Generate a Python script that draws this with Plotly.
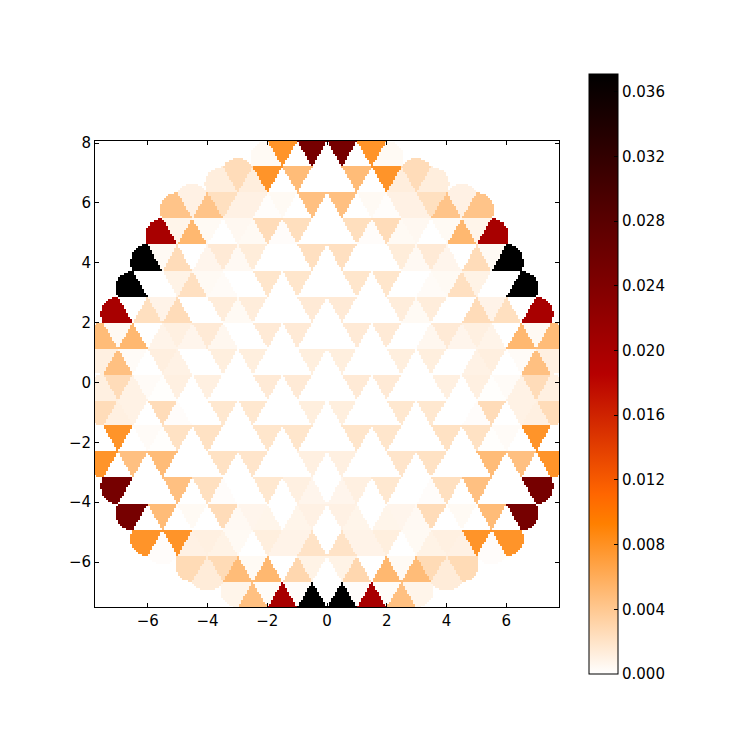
import numpy as np
import plotly.graph_objects as go

SCALE = 1e-5
row_00 = [40,780,0,2510,0,2510,0,780,40]
row_01 = [125,255,125,780,0,490,0,0,0,490,0,780,125,255,125]
row_02 = [430,100,430,230,100,100,15,40,0,460,0,460,0,40,15,100,100,230,430,100,430]
row_03 = [2000,75,520,40,0,50,40,255,20,235,0,0,0,235,20,255,40,50,0,40,520,75,2000]
row_04 = [3710,40,255,0,70,150,45,135,0,0,0,225,0,225,0,0,0,135,45,150,70,0,255,40,3710]
row_05 = [3710,0,0,90,225,40,30,0,0,185,0,185,0,0,0,185,0,185,0,0,30,40,225,90,0,0,3710]
row_06 = [2000,0,230,85,255,0,0,130,40,130,0,0,0,150,0,150,0,0,0,130,40,130,0,0,255,85,230,0,2000]
row_07 = [490,45,520,0,80,110,70,150,60,0,0,150,0,150,0,0,0,150,0,150,0,0,60,150,70,110,80,0,520,45,490]
row_08 = [110,460,30,0,115,95,0,0,120,0,120,0,0,0,120,0,120,0,0,0,120,0,120,0,0,95,115,0,30,460,110]
row_09 = [110,255,95,30,10,110,0,110,0,0,0,150,0,150,0,0,0,150,0,150,0,0,0,110,0,110,10,30,95,255,110]
row_10 = [255,110,95,0,255,20,0,0,170,0,170,0,0,0,120,0,120,0,0,0,170,0,170,0,0,20,255,0,95,110,255]
row_11 = [0,780,0,30,10,215,0,215,0,0,0,185,0,185,0,0,0,185,0,185,0,0,0,215,0,215,10,30,0,780,0]
row_12 = [780,0,460,0,490,0,0,0,215,0,190,0,0,0,110,0,110,0,0,0,190,0,215,0,0,0,490,0,460,0,780]
row_13 = [2510,0,0,0,460,0,230,20,0,0,170,0,110,70,0,70,110,0,170,0,0,20,230,0,460,0,0,0,2510]
row_14 = [2510,0,490,0,40,0,255,45,70,75,0,75,100,0,100,75,0,75,70,45,255,0,40,0,490,0,2510]
row_15 = [780,20,780,100,110,90,40,0,120,85,85,205,0,205,85,85,120,0,40,90,110,100,780,20,780]
row_16 = [265,140,265,490,40,520,0,290,90,0,90,290,0,520,40,490,265,140,265]
row_17 = [75,460,25,2000,20,3710,0,3710,20,2000,25,460,75]
rows = [row_00,row_01,row_02,row_03,row_04,row_05,row_06,row_07,row_08,
        row_09,row_10,row_11,row_12,row_13,row_14,row_15,row_16,row_17]

tick_x = [-6,-4,-2,0,2,4,6]
tick_y = [-6,-4,-2,0,2,4,6,8]
tick_cb = [0,0.004,0.008,0.012,0.016,0.02,0.024,0.028,0.032,0.036]
VMAX = 0.0371
Y_TOP = 8.067
ROW_H = 0.866
CIRCUM = 0.577

xs = np.linspace(-7.77, 7.77, 232)
ys = np.linspace(-7.5, Y_TOP, 233)
gx, gy = np.meshgrid(xs, ys)
best_d2 = np.full(gx.shape, np.inf)
z = np.full(gx.shape, np.nan)
for r, row in enumerate(rows):
    c0 = -(len(row) - 1) / 4.0
    y_top = Y_TOP - ROW_H * r
    for i, value in enumerate(row):
        c2 = int(round(2 * (c0 + i * 0.5)))
        down = (c2 % 2 == 1) if r % 2 == 0 else (c2 % 2 == 0)
        cy = y_top - ROW_H / 3 if down else y_top - 2 * ROW_H / 3
        d2 = (gx - c2 / 2.0) ** 2 + (gy - cy) ** 2
        hit = (d2 < best_d2) & (d2 <= CIRCUM ** 2)
        z[hit] = value * SCALE
        best_d2[hit] = d2[hit]

scale = [[0.0, "rgb(255,255,255)"], [0.25, "rgb(255,128,0)"], [0.3, "rgb(255,102,0)"],
         [0.5, "rgb(182,0,0)"], [1.0, "rgb(0,0,0)"]]

L, R, T, B = 86.5, 551.0, 133.0, 599.0
fig = go.Figure(go.Heatmap(
    x=xs, y=ys, z=z, zmin=0, zmax=VMAX, colorscale=scale, zsmooth=False,
    hoverongaps=False,
    colorbar=dict(
        thickness=29, thicknessmode="pixels", len=600, lenmode="pixels",
        x=(581 - L) / (R - L), xanchor="left", xref="paper",
        y=1 + (T - 66) / (B - T), yanchor="top", yref="paper",
        xpad=0, ypad=0, outlinewidth=1, outlinecolor="black", borderwidth=0,
        tickmode="array", tickvals=tick_cb, tickformat=".3f",
        ticks="inside", ticklen=4, tickwidth=1, tickcolor="black",
        tickfont=dict(family="DejaVu Sans", size=15, color="black"),
    ),
))
axis = dict(showgrid=False, zeroline=False, showline=True, mirror="allticks", linecolor="black",
            linewidth=1, ticks="inside", ticklen=4, tickwidth=1, tickcolor="black",
            tickfont=dict(family="DejaVu Sans", size=15, color="black"))
fig.update_layout(
    width=749, height=749, paper_bgcolor="white", plot_bgcolor="white",
    margin=dict(l=L, r=749 - R, t=T, b=749 - B, autoexpand=False),
    xaxis=dict(range=[-7.77, 7.77], tickmode="array", tickvals=tick_x, **axis),
    yaxis=dict(range=[-7.5, Y_TOP], tickmode="array", tickvals=tick_y, **axis),
)
fig.write_html("out.html")
